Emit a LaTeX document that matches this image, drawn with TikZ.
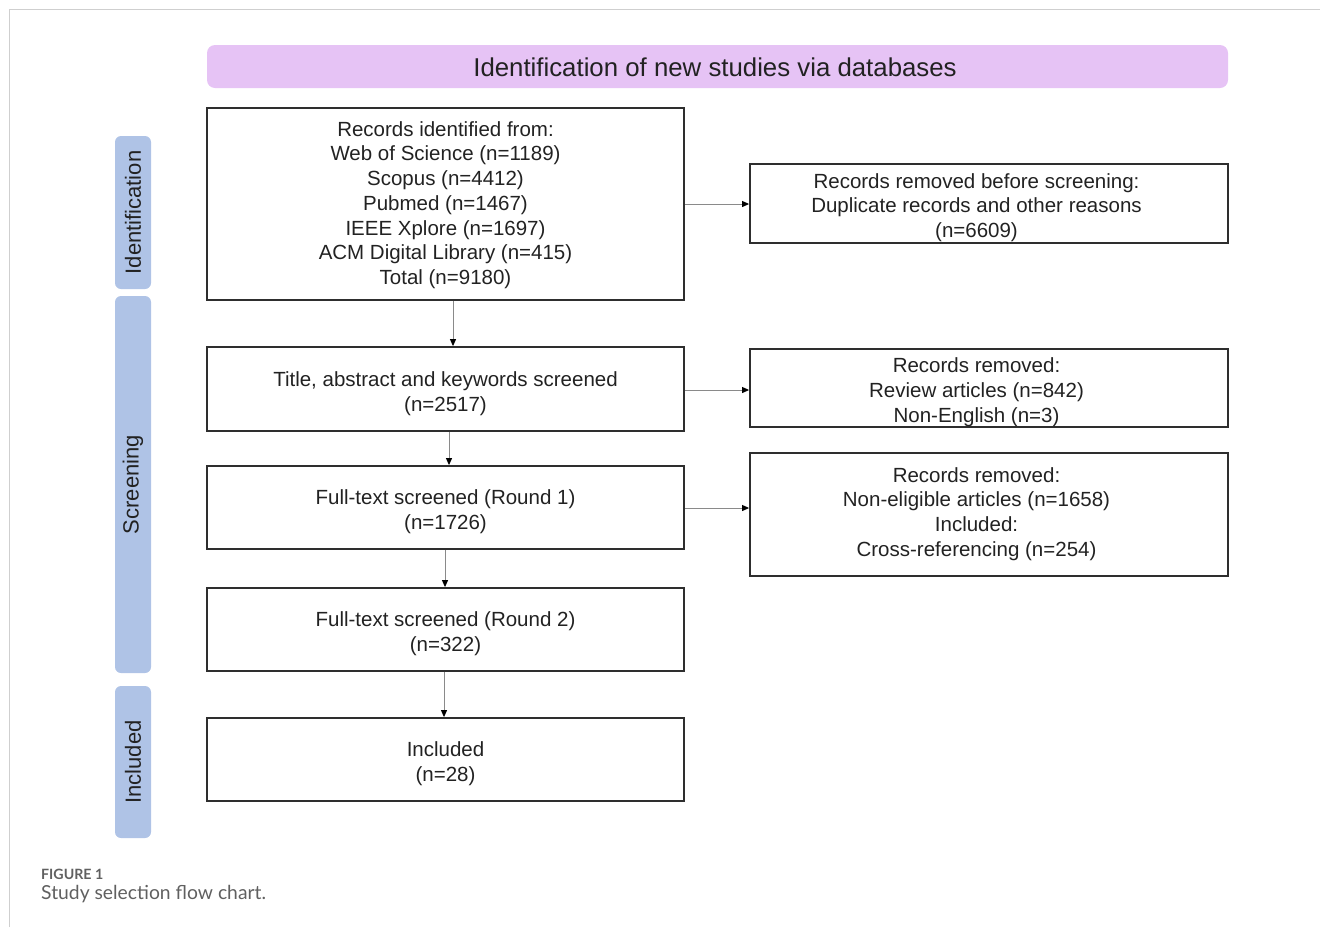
\documentclass[tikz,border=0pt]{standalone}
\usepackage{fontspec}
\setmainfont{Liberation Sans}
\newfontfamily\capfont{Lato}
\usetikzlibrary{arrows.meta,calc}
\definecolor{hdr}{HTML}{E6C3F5}
\definecolor{side}{HTML}{AFC3E6}
\definecolor{bord}{HTML}{2E2E2E}
\definecolor{txt}{HTML}{222222}
\definecolor{arrg}{HTML}{8A8A8A}
\definecolor{frame}{HTML}{CFCFCF}
\definecolor{capc}{HTML}{606060}
\tikzset{
  box/.style={draw=bord, line width=1.8, minimum width=477, inner sep=0},
  rbox/.style={box, minimum width=478},
  btext/.style={align=center, text=txt, inner sep=0, font=\fontsize{20.5}{24.7}\selectfont},
  sidelab/.style={fill=side, rounded corners=6, minimum height=36, rotate=90, text=txt,
    font=\fontsize{22}{26}\selectfont, inner sep=0},
  arr/.style={draw=arrg, line width=0.9, -{Triangle[length=7,width=6,color=black]}},
}
\begin{document}
\begin{tikzpicture}[x=1pt,y=-1pt]
\useasboundingbox (0,0) rectangle (1320,927);
\draw[frame, line width=1.2] (9.5,927) -- (9.5,9.5) -- (1320,9.5);
\node[fill=hdr, rounded corners=8, minimum width=1021, minimum height=43, inner sep=0] (hd) at (717.5,66.5) {};
\node[font=\fontsize{25.8}{30}\selectfont, text=txt, inner sep=0] (hdt) at (715,67.5) {Identification of new studies via databases};
% left column
\node[box, minimum height=192] (b1) at (445.5,204) {};
\node[btext] (t1) at (445.5,205) {Records identified from:\\Web of Science (n=1189)\\Scopus (n=4412)\\Pubmed (n=1467)\\IEEE Xplore (n=1697)\\ACM Digital Library (n=415)\\Total (n=9180)};
\node[box, minimum height=84] (b2) at (445.5,389) {};
\node[btext] (t2) at (445.5,394) {Title, abstract and keywords screened\\(n=2517)};
\node[box, minimum height=83] (b3) at (445.5,507.5) {};
\node[btext] (t3) at (445.5,511.5) {Full-text screened (Round 1)\\(n=1726)};
\node[box, minimum height=83] (b4) at (445.5,629.5) {};
\node[btext] (t4) at (445.5,633.5) {Full-text screened (Round 2)\\(n=322)};
\node[box, minimum height=83] (b5) at (445.5,759.5) {};
\node[btext] (t5) at (445.5,763.5) {Included\\(n=28)};
% right column
\node[rbox, minimum height=79] (r1) at (989,203.5) {};
\node[btext] (u1) at (976.5,207.5) {Records removed before screening:\\Duplicate records and other reasons\\(n=6609)};
\node[rbox, minimum height=78] (r2) at (989,388) {};
\node[btext] (u2) at (976.5,392) {Records removed:\\Review articles (n=842)\\Non-English (n=3)};
\node[rbox, minimum height=123] (r3) at (989,514.5) {};
\node[btext] (u3) at (976.5,514) {Records removed:\\Non-eligible articles (n=1658)\\Included:\\Cross-referencing (n=254)};
% side labels
\node[sidelab, minimum width=153] (s1) at (133,212.5) {Identification};
\node[sidelab, minimum width=377] (s2) at (133,484.5) {Screening};
\node[sidelab, minimum width=152] (s3) at (133,762) {Included};
% arrows
\draw[arr] ([xshift=7.5]b1.south) -- ([xshift=7.5]b2.north);
\draw[arr] ([xshift=3.5]b2.south) -- ([xshift=3.5]b3.north);
\draw[arr] ([xshift=-0.5]b3.south) -- ([xshift=-0.5]b4.north);
\draw[arr] ([xshift=-1.5]b4.south) -- ([xshift=-1.5]b5.north);
\draw[arr] (b1.east) -- (b1.east -| r1.west);
\draw[arr] ([yshift=-1]b2.east) -- ([yshift=-1]b2.east -| r2.west);
\draw[arr] ([yshift=-0.5]b3.east) -- ([yshift=-0.5]b3.east -| r3.west);
% caption
\node[anchor=base west, inner sep=0, text=capc, font=\capfont\bfseries\fontsize{14.2}{16}\selectfont] (c1) at (41,879) {FIGURE 1};
\node[anchor=base west, inner sep=0, text=capc, font=\capfont\fontsize{19.3}{22}\selectfont] (c2) at (41,899) {Study selection flow chart.};
\end{tikzpicture}
\end{document}
